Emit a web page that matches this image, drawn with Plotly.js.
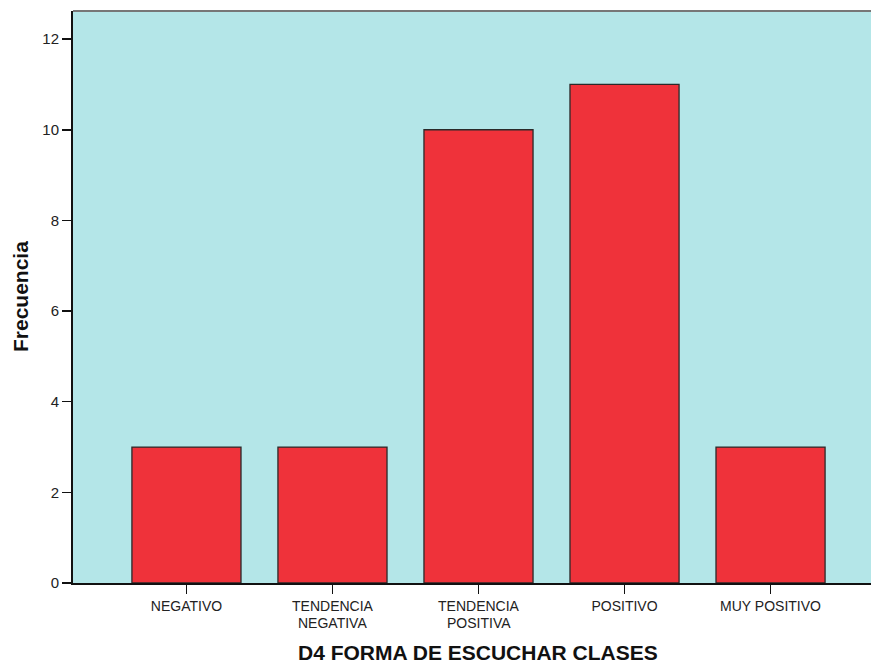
<!DOCTYPE html>
<html>
<head>
<meta charset="utf-8">
<script src="https://cdn.plot.ly/plotly-3.0.1.min.js"></script>
<style>html,body{margin:0;padding:0;background:#fff;}#chart{width:871px;height:664px;}</style>
</head>
<body>
<div id="chart"></div>
<script>
const categoryLine1 = ["NEGATIVO", "TENDENCIA", "TENDENCIA", "POSITIVO", "MUY POSITIVO"];
const categoryLine2 = ["", "NEGATIVA", "POSITIVA", "", ""];
const frecuencia = [3, 3, 10, 11, 3];
const yTicks = [0, 2, 4, 6, 8, 10, 12];
const positions = [0, 1, 2, 3, 4];

const trace = {
  type: "bar",
  x: positions,
  y: frecuencia,
  marker: {color: "#ef323a", line: {color: "#2a2a2a", width: 1.3}},
  hoverinfo: "skip"
};

const FONT = "Liberation Sans, Arial, sans-serif";

const annotations = [];
positions.forEach((p, i) => {
  if (categoryLine2[i]) {
    annotations.push({
      x: p, xref: "x", y: 0, yref: "paper",
      text: categoryLine2[i], showarrow: false,
      xanchor: "center", yanchor: "top", yshift: -31, borderpad: 0,
      font: {family: FONT, size: 14, color: "#222"}
    });
  }
});
annotations.push({
  x: 0.5075, xref: "paper", y: 0, yref: "paper",
  text: "<b>D4 FORMA DE ESCUCHAR CLASES</b>", showarrow: false,
  xanchor: "center", yanchor: "middle", yshift: -69,
  font: {family: FONT, size: 21, color: "#111"}
});
annotations.push({
  x: 0, xref: "paper", y: 0.5, yref: "paper",
  text: "<b>Frecuencia</b>", showarrow: false, textangle: -90,
  xanchor: "center", yanchor: "middle", xshift: -53,
  font: {family: FONT, size: 21, color: "#111"}
});

const layout = {
  width: 871, height: 664,
  margin: {l: 73, r: 0, t: 11, b: 81},
  paper_bgcolor: "#ffffff",
  plot_bgcolor: "#b4e6e8",
  bargap: 0.253,
  showlegend: false,
  font: {family: FONT, color: "#222"},
  xaxis: {
    range: [-0.777, 4.688],
    tickmode: "array",
    tickvals: positions,
    ticktext: categoryLine1,
    ticks: "outside", ticklen: 9, tickwidth: 1.5, tickcolor: "#111",
    tickfont: {size: 14, color: "#222"},
    showline: true, linecolor: "#111", linewidth: 2,
    showgrid: false, zeroline: false, automargin: false
  },
  yaxis: {
    range: [0, 12.62],
    tickmode: "array",
    tickvals: yTicks,
    ticks: "outside", ticklen: 9, tickwidth: 1.5, tickcolor: "#111",
    tickfont: {size: 15, color: "#222"},
    showline: true, linecolor: "#111", linewidth: 2,
    showgrid: false, zeroline: false, automargin: false
  },
  annotations: annotations,
  shapes: [{
    type: "line", xref: "paper", yref: "paper",
    x0: 0, x1: 1, y0: 1, y1: 1,
    line: {color: "#777", width: 2}
  }]
};

Plotly.newPlot("chart", [trace], layout, {displayModeBar: false, staticPlot: true});
</script>
</body>
</html>
